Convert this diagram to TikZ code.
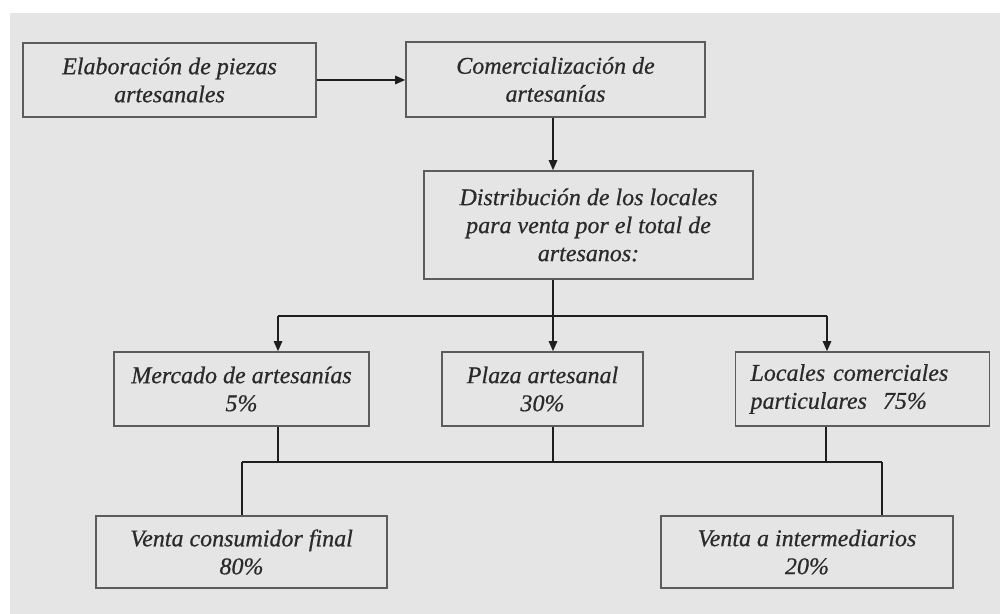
\documentclass[tikz,border=0pt]{standalone}
\usepackage{fontspec}
\setmainfont{Liberation Serif}
\newfontfamily\boxfont[FakeBold=0.6]{Liberation Serif}
\usetikzlibrary{arrows.meta}
\definecolor{bggrey}{HTML}{E5E5E5}
\definecolor{boxline}{HTML}{5C5C5C}
\definecolor{txt}{HTML}{2A2A2A}
\definecolor{conn}{HTML}{1E1E1E}
\tikzset{
  box/.style={draw=boxline, line width=0.8pt, inner sep=0pt, align=center,
    font=\boxfont\fontsize{12}{14}\selectfont\itshape, text=txt},
  link/.style={draw=conn, line width=0.75pt},
  arr/.style={link, -{Triangle[length=5pt,width=4.2pt]}},
}
\begin{document}
\begin{tikzpicture}[x=0.5pt,y=-0.5pt]
\useasboundingbox (0,0) rectangle (1000,614);
\fill[white] (0,0) rectangle (1000,614);
\fill[bggrey] (10,13) rectangle (1000,614);

\node[box, minimum width=146.5pt, minimum height=37pt] (e1) at (169.5,80)
  {Elaboración de piezas\\artesanales};
\node[box, minimum width=149.5pt, minimum height=37.5pt] (c1) at (555.5,79.5)
  {Comercialización de\\artesanías};
\node[box, minimum width=164.5pt, minimum height=54pt] (d) at (588.5,225)
  {Distribución de los locales\\para venta por el total de\\artesanos:};
\node[box, minimum width=127.5pt, minimum height=37pt] (m) at (241.5,389)
  {Mercado de artesanías\\5\%};
\node[box, minimum width=100.5pt, minimum height=37pt] (p) at (542.5,389)
  {Plaza artesanal\\30\%};
\node[box, align=left, text width=112pt, inner xsep=7.5pt, minimum height=37pt] (l) at (862.5,389)
  {Locales comerciales\\particulares~ 75\%};
\node[box, minimum width=145.5pt, minimum height=36pt] (v1) at (241.5,552)
  {Venta consumidor final\\80\%};
\node[box, minimum width=146pt, minimum height=36pt] (v2) at (807,552)
  {Venta a intermediarios\\20\%};

\coordinate (t1) at (553,316);
\coordinate (hl) at (278,316);
\coordinate (hr) at (827,316);
\coordinate (j1) at (278,462);
\coordinate (j2) at (553,462);
\coordinate (j3) at (826,462);
\coordinate (bl) at (242,462);
\coordinate (br) at (882,462);

\draw[arr] (e1.east) -- (e1.east -| c1.west);
\draw[arr] (c1.south -| t1) -- (t1 |- d.north);
\draw[link] (d.south -| t1) -- (t1);
\draw[link] (hl) -- (hr);
\draw[arr] (hl) -- (hl |- m.north);
\draw[arr] (t1) -- (t1 |- p.north);
\draw[arr] (hr) -- (hr |- l.north);

\draw[link] (m.south -| j1) -- (j1);
\draw[link] (p.south -| j2) -- (j2);
\draw[link] (l.south -| j3) -- (j3);
\draw[link] (bl) -- (br);
\draw[link] (bl) -- (bl |- v1.north);
\draw[link] (br) -- (br |- v2.north);
\end{tikzpicture}
\end{document}
